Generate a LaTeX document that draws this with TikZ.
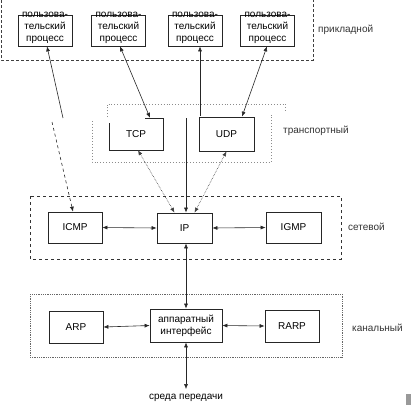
\documentclass[tikz,border=0pt]{standalone}
\usepackage{fontspec}
\setmainfont{Liberation Sans}
\usetikzlibrary{arrows.meta}
\begin{document}
\begin{tikzpicture}[x=1pt,y=-1pt,
  font=\fontsize{10pt}{12pt}\selectfont,
  ar/.style={-{Latex[length=5pt,width=4pt]}},
  both/.style={{Latex[length=5pt,width=4pt]}-{Latex[length=5pt,width=4pt]}},
  box/.style={draw=black!85,line width=0.7pt,minimum width=54pt,minimum height=31pt,inner sep=0pt},
  proctext/.style={align=center,inner sep=0pt},
  layer/.style={anchor=west,inner sep=0pt,text=black!80},
  conn/.style={line width=0.6pt,black!85},
  dotconn/.style={line width=0.6pt,black!75,densely dotted},
  appbox/.style={draw=black!75,line width=0.9pt,densely dashed},
  trbox/.style={draw=black!45,line width=0.9pt,dotted},
  netbox/.style={draw=black!80,line width=0.5pt,dashed},
  linkbox/.style={draw=black!60,line width=0.8pt,densely dotted}]
\useasboundingbox (0,0) rectangle (411,405);

% layer frames
\draw[appbox] (1,-5) rectangle (313,60);
\draw[trbox] (107,117) -- (107,104) -- (285,104) -- (285,112);
\draw[trbox] (92,121) -- (92,162) -- (271,162) -- (271,115);
\draw[netbox] (30,196) rectangle (341,259);
\draw[linkbox] (30,294) rectangle (342,357);

% layer labels
\node[layer] (lapp) at (318,30) {прикладной};
\node[layer] (ltr) at (283,131) {транспортный};
\node[layer] (lnet) at (348,227) {сетевой};
\node[layer] (llink) at (352,328) {канальный};

% application processes
\foreach \n/\x in {p1/45,p2/118.5,p3/195,p4/267.5}{
  \node[box] (\n) at (\x,30.5) {};
  \node[proctext] (\n t) at ([yshift=2.5pt]\n.center) {пользова-\\тельский\\процесс};
}

% transport
\node[minimum width=54pt,minimum height=32pt,inner sep=0pt] (tcp) at (136,134) {TCP};
\draw[black!85,line width=0.7pt] (145,118) -- (163,118) -- (163,150) -- (109,150) -- (109,123);
\node[box,minimum width=55pt,minimum height=34pt] (udp) at (226.5,134) {UDP};

% network
\node[box] (icmp) at (75,227.5) {ICMP};
\node[box,minimum width=55pt,minimum height=30pt] (ip) at (184.5,228) {IP};
\node[box,minimum width=55pt] (igmp) at (293.5,227.5) {IGMP};

% link
\node[box,minimum height=32pt] (arp) at (76,327) {ARP};
\node[box,minimum width=72pt,minimum height=33pt,align=center] (hw) at (186,325.5) {аппаратный\\интерфейс};
\node[box,minimum height=32pt] (rarp) at (292,326) {RARP};

\node[inner sep=0pt] (media) at (186,398) {среда передачи};

% connectors
\coordinate (k1) at (63,118);
\coordinate (k2) at (52,122);
\draw[conn,ar] (k1) -- ([xshift=2pt]p1.south);
\draw[conn,ar,dashed] (k2) -- ([xshift=-2pt]icmp.north);
\draw[conn,both] ([xshift=1.5pt]p2.south) -- ([xshift=14pt]tcp.north);
\coordinate (k3) at (200,116);
\coordinate (k4) at (186,118);
\draw[conn,ar] (k3) -- ([xshift=5pt]p3.south);
\draw[conn,ar] (k4) -- ([xshift=1.5pt]ip.north);
\draw[conn,both] ([xshift=-0.5pt]p4.south) -- ([xshift=15.5pt]udp.north);
\draw[dotconn,both] ([xshift=2pt]tcp.south) -- ([xshift=-10pt]ip.north);
\draw[dotconn,both] (udp.south) -- ([xshift=10pt]ip.north);
\draw[conn,both] (icmp.east) -- (ip.west);
\draw[conn,both] (ip.east) -- (igmp.west);
\draw[conn,both] (hw.north |- ip.south) -- (hw.north);
\draw[conn,both] (arp.east) -- (hw.west);
\draw[conn,both] (hw.east) -- (rarp.west);
\draw[conn,both] (hw.south) -- ([yshift=5pt]media.north);

\fill[black!40] (406,394) rectangle (411,405);
\end{tikzpicture}
\end{document}
